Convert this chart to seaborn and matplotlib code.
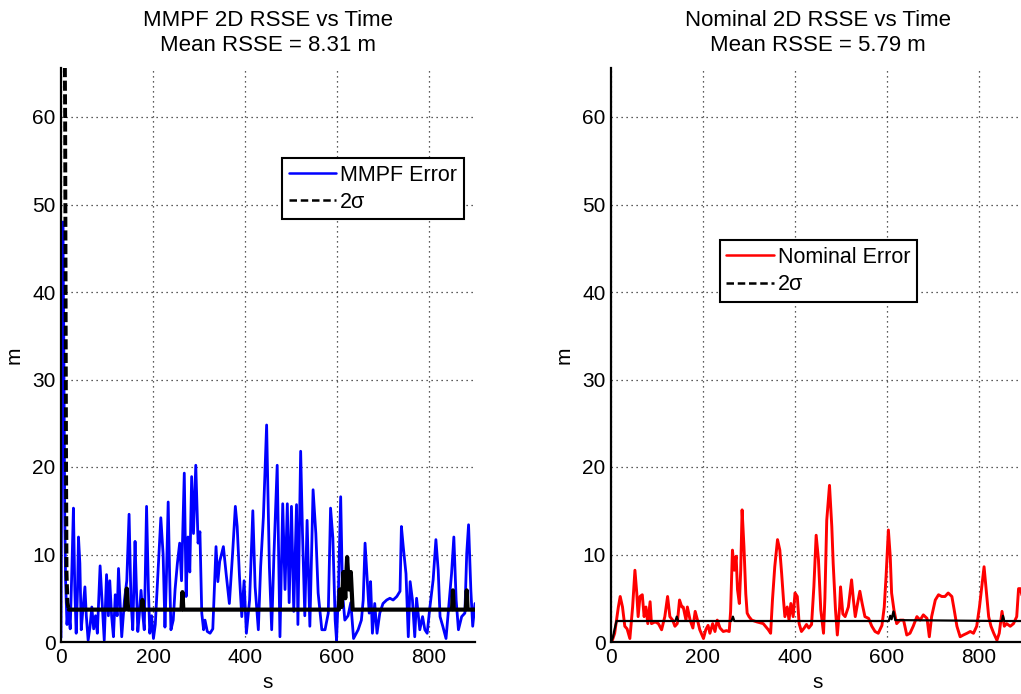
import numpy as np
import pandas as pd
import matplotlib
matplotlib.use("Agg")
import matplotlib.pyplot as plt
from matplotlib.lines import Line2D
import seaborn as sns

# ---------------- data ----------------
mmpf_t = [0, 2, 4, 6, 8, 10, 13, 16, 20, 24, 27, 30, 33, 36, 38, 41, 44, 48, 52, 55,
          59, 63, 67, 71, 75, 79, 85, 89, 94, 99, 103, 106, 110, 114, 118, 122, 125, 128,
          132, 138, 143, 148, 152, 156, 161, 164, 167, 170, 174, 178, 181, 186, 190, 193,
          197, 201, 205, 209, 213, 217, 222, 226, 229, 233, 236, 239, 244, 248, 253, 258,
          262, 268, 272, 276, 280, 284, 288, 293, 298, 302, 306, 310, 313, 318, 324, 330,
          337, 341, 345, 353, 359, 366, 373, 379, 383, 388, 393, 398, 403, 410, 417, 422,
          429, 434, 440, 447, 453, 458, 463, 470, 476, 482, 487, 492, 496, 501, 506, 512,
          515, 521, 525, 530, 535, 541, 548, 554, 559, 567, 574, 581, 586, 591, 596, 599,
          603, 608, 612, 617, 624, 630, 636, 646, 653, 657, 661, 666, 670, 673, 677, 682,
          687, 693, 700, 708, 715, 722, 730, 737, 740, 744, 750, 755, 759, 764, 769, 773,
          780, 786, 791, 796, 802, 809, 815, 820, 824, 830, 837, 844, 849, 854, 859, 864,
          871, 878, 882, 886, 891, 895, 900]
mmpf_err = [0.5, 30, 48, 35, 15, 7, 2, 4, 1.5, 9, 15.3, 6, 1, 6, 12, 9, 1.4, 4, 6.3, 3,
            0.2, 1.7, 4, 1.5, 3, 1, 8.7, 5, 0.2, 7.7, 3, 7, 3, 0.6, 5.4, 3, 8.4, 5,
            0.6, 4.8, 7, 14.6, 5, 1.4, 11.5, 6, 1.2, 3, 5.9, 3, 1.4, 15.5, 6, 1,
            3, 0.4, 2, 6, 10, 14.2, 10, 1.7, 7, 16, 8, 1.4, 2.5, 6, 9, 11.3,
            7, 19.3, 5.2, 12, 8, 18.9, 12.4, 20.2, 11.3, 12.6, 3.3, 1.4, 2.5, 1.2, 1, 1.5,
            10.9, 6.9, 9.2, 10.9, 7.8, 4.4, 10.1, 15.5, 13.2, 7.5, 2.9, 7, 1, 4.8, 15, 6.3,
            1.4, 8.6, 14.3, 24.8, 8.6, 1.4, 10.1, 20.2, 0.6, 15.8, 6, 15.8, 4.5, 15.5, 3.5, 15.7,
            2, 21.8, 12.4, 3, 13.9, 1.8, 17.4, 12.4, 5.6, 1.4, 1.4, 3.3, 15.3, 11.9, 2.5, 0.2,
            5.6, 16.6, 5.6, 2.5, 3, 4.5, 0.4, 1.4, 2.5, 4.8, 11.3, 6.9, 3.3, 6.9, 1, 4.4,
            1, 3.3, 4.4, 4.8, 5, 4.8, 5.2, 5.8, 13.2, 10.9, 7.8, 0.6, 6.9, 4.8, 0.6, 5,
            1.4, 2.9, 1.4, 1, 4, 7.1, 11.7, 8.2, 2.9, 1.8, 0.4, 4.8, 7.8, 12, 4.8, 1.4,
            2.9, 3.3, 10.1, 13.4, 5.9, 1.8, 4.4]

mmpf_sig_t = [0, 8, 9, 10, 11, 12, 14, 17, 140, 143, 146, 175, 177, 179, 262, 264, 266,
              604, 606, 610, 614, 618, 622, 626, 630, 634, 850, 852, 854, 880, 882, 884, 900]
mmpf_sig = [90, 70, 60, 40, 20, 8, 4.5, 3.7, 3.7, 6.1, 3.7, 3.7, 4.8, 3.7, 3.7, 5.7, 3.7,
            3.7, 6, 4, 8, 5, 9.7, 6, 8, 3.7, 3.7, 5.9, 3.7, 3.7, 5.9, 3.7, 3.7]

nom_t = [0, 3, 8, 12, 16, 20, 25, 30, 35, 41, 47, 52, 56, 59, 63, 68, 72, 76, 80, 85,
         88, 96, 103, 110, 117, 123, 128, 134, 139, 144, 149, 154, 157, 163, 166, 172, 178,
         183, 188, 193, 201, 206, 211, 215, 221, 226, 231, 237, 244, 251, 257, 260, 264,
         268, 272, 275, 279, 282, 285, 289, 293, 296, 300, 306, 317, 331, 342, 347, 351,
         356, 362, 367, 371, 375, 378, 383, 387, 391, 396, 400, 405, 409, 414, 420, 425,
         430, 436, 441, 446, 451, 456, 462, 465, 469, 475, 480, 483, 488, 492, 497, 499,
         504, 509, 516, 523, 527, 531, 536, 541, 546, 552, 560, 567, 574, 581, 589, 594,
         598, 603, 607, 610, 615, 621, 628, 636, 643, 650, 657, 665, 672, 679, 687, 692,
         697, 705, 712, 719, 726, 733, 741, 746, 752, 759, 766, 774, 781, 788, 795, 801,
         806, 811, 815, 821, 826, 832, 839, 844, 850, 855, 860, 868, 875, 882, 886, 890, 895]
nom_err = [0, 0.2, 1, 2.5, 4, 5.2, 4, 1.8, 1.5, 0.4, 4, 8.2, 5.6, 2.9, 5.2, 5.4, 2.9, 4, 2.1, 4.6,
           2.1, 2.3, 2.1, 1.4, 2.9, 5.2, 2.9, 2.5, 1.8, 2.1, 4.8, 4, 4, 2.5, 4, 2.5, 1.6,
           3.5, 2.5, 1.4, 0.4, 1.4, 1.9, 1, 2.1, 1.2, 2.5, 1.6, 1.2, 1.3, 1.2, 3.5, 10.5,
           8.2, 9.8, 6, 4.4, 8.2, 15.1, 10.9, 5.5, 3.3, 2.9, 2.5, 2.3, 2.1, 1.4, 1, 4.8,
           8.6, 11.7, 10.5, 7.8, 4.8, 2.9, 4, 2.5, 4.4, 2.9, 5.6, 5.2, 2.1, 1.2, 1.6, 2,
           1.6, 2, 6.3, 12.2, 9.4, 3.7, 1, 5, 13.9, 17.9, 13.2, 9, 3.7, 0.8, 4, 6.3,
           3.2, 2.9, 4, 7.1, 4.8, 2.9, 4.4, 5.8, 4.4, 2.9, 2.7, 1.8, 1.2, 1, 1.9, 4,
           7.5, 12.8, 9.8, 5.6, 3.7, 2.1, 2.5, 2.5, 0.8, 1, 1.8, 2.9, 2.5, 3.1, 2.7, 0.6,
           2.9, 4.8, 5.4, 5.2, 5.2, 5.6, 5.2, 3.7, 1.8, 0.6, 0.8, 1, 1.2, 1, 1.8, 4,
           6.3, 8.6, 6.3, 2.9, 1.8, 1, 0.2, 1, 3.5, 1.8, 2.1, 1.8, 2.1, 2.9, 6.1, 6.1, 5]

nom_sig_t = [0, 4, 8, 12, 140, 143, 146, 262, 265, 268, 604, 607, 610, 614, 618, 850, 852, 855, 900]
nom_sig = [0, 0.5, 1.5, 2.4, 2.4, 2.9, 2.4, 2.4, 2.9, 2.4, 2.4, 3.0, 2.6, 3.5, 2.5, 2.4, 3.0, 2.4, 2.4]

titles = ["MMPF 2D RSSE vs Time\nMean RSSE = 8.31 m",
          "Nominal 2D RSSE vs Time\nMean RSSE = 5.79 m"]
labels_err = ["MMPF Error", "Nominal Error"]
label_sig = "2σ"
xticks = [0, 200, 400, 600, 800]
yticks = [0, 10, 20, 30, 40, 50, 60]

# ---------------- style ----------------
sns.set_style("white")
plt.rcParams['font.family'] = ['Liberation Sans', 'DejaVu Sans']
plt.rcParams['font.size'] = 15
for k in ['text.color', 'axes.labelcolor', 'xtick.color', 'ytick.color']:
    plt.rcParams[k] = 'black'

W, H = 1021, 694
fig = plt.figure(figsize=(W / 100, H / 100), dpi=100)
ax_l = fig.add_axes([61 / W, 52 / H, 414 / W, 574 / H])
ax_r = fig.add_axes([611 / W, 52 / H, 414 / W, 574 / H])

df_m = pd.DataFrame({"t": mmpf_t, "v": mmpf_err})
df_ms = pd.DataFrame({"t": mmpf_sig_t, "v": mmpf_sig})
df_n = pd.DataFrame({"t": nom_t, "v": nom_err})
df_ns = pd.DataFrame({"t": nom_sig_t, "v": nom_sig})

n_head = 8  # steep start of the MMPF 2-sigma bound, drawn visibly dashed
sns.lineplot(data=df_m, x="t", y="v", ax=ax_l, color="#0000ff", lw=2.0, estimator=None, sort=False)
sns.lineplot(data=df_ms.iloc[:n_head], x="t", y="v", ax=ax_l, color="black", lw=2.8,
             estimator=None, sort=False, linestyle=(0, (2.6, 0.9)))
sns.lineplot(data=df_ms.iloc[n_head - 1:], x="t", y="v", ax=ax_l, color="black", lw=3.0,
             estimator=None, sort=False)
sns.lineplot(data=df_n, x="t", y="v", ax=ax_r, color="#ff0000", lw=2.1, estimator=None, sort=False)
sns.lineplot(data=df_ns, x="t", y="v", ax=ax_r, color="black", lw=1.6, estimator=None, sort=False)

for ax, title in zip([ax_l, ax_r], titles):
    ax.set_xlim(0, 900)
    ax.set_ylim(0, 65.6)
    ax.set_xticks(xticks)
    ax.set_yticks(yticks)
    ax.grid(True, color="black", linestyle=(0, (1, 3)), linewidth=0.9, alpha=0.85)
    ax.set_axisbelow(True)
    for s in ["top", "right"]:
        ax.spines[s].set_visible(False)
    for s in ["left", "bottom"]:
        ax.spines[s].set_color("black")
        ax.spines[s].set_linewidth(1.6)
    ax.tick_params(direction="in", length=5, width=1.2, labelsize=15, colors="black", pad=4)
    ax.set_title(title, fontsize=16, pad=12, linespacing=1.25)
    ax.set_xlabel("s", fontsize=15, labelpad=5)
    ax.set_ylabel("m", fontsize=15, labelpad=6)

leg_kw = dict(fontsize=15.5, frameon=True, fancybox=False, framealpha=1, edgecolor="black",
              handlelength=2.2, handletextpad=0.2, labelspacing=0.3, borderpad=0.3,
              borderaxespad=0)

h_l = [Line2D([], [], color="#0000ff", lw=1.8),
       Line2D([], [], color="black", lw=1.8, linestyle=(0, (3, 1.5)))]
leg = ax_l.legend(h_l, [labels_err[0], label_sig], loc="upper right",
                  bbox_to_anchor=(0.973, 0.843), **leg_kw)
leg.get_frame().set_linewidth(1.5)

h_r = [Line2D([], [], color="#ff0000", lw=1.8),
       Line2D([], [], color="black", lw=1.8, linestyle=(0, (3, 1.5)))]
leg2 = ax_r.legend(h_r, [labels_err[1], label_sig], loc="upper left",
                   bbox_to_anchor=(0.263, 0.70), **leg_kw)
leg2.get_frame().set_linewidth(1.5)

fig.savefig("out.png", dpi=100)
